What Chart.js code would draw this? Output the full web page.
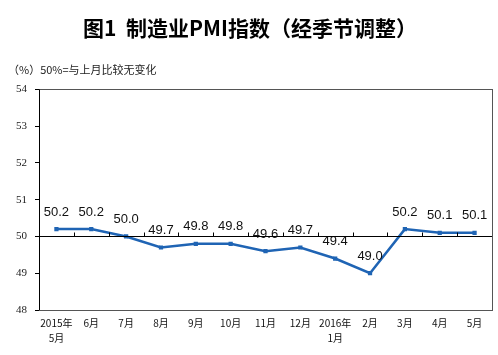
<!DOCTYPE html>
<html><head><meta charset="utf-8">
<script src="https://cdn.jsdelivr.net/npm/chart.js@4"></script>
<style>html,body{margin:0;padding:0;background:#fff}#wrap{width:498px;height:355px}</style>
</head><body><div id="wrap"><canvas id="c" width="498" height="355"></canvas></div>
<script>
const categories = [["2015年","5月"],"6月","7月","8月","9月","10月","11月","12月",["2016年","1月"],"2月","3月","4月","5月"];
const pmiValues = [50.2,50.2,50.0,49.7,49.8,49.8,49.6,49.7,49.4,49.0,50.2,50.1,50.1];
const yTicks = [48,49,50,51,52,53,54];
const titleText = "图1  制造业PMI指数（经季节调整）";
const subtitleText = "（%）50%=与上月比较无变化";

const decor = {
  id:'decor',
  afterDraw(chart){
    const ctx = chart.ctx, a = chart.chartArea, x = chart.scales.x, y = chart.scales.y;
    ctx.save();
    ctx.strokeStyle = '#555'; ctx.lineWidth = 1;
    ctx.strokeRect(Math.round(a.left)+0.5, Math.round(a.top)+0.5, Math.round(a.right-a.left), Math.round(a.bottom-a.top));
    ctx.strokeStyle = '#000';
    ctx.beginPath(); ctx.moveTo(Math.round(a.left)+0.5, a.top); ctx.lineTo(Math.round(a.left)+0.5, a.bottom); ctx.stroke();
    const y50 = Math.round(y.getPixelForValue(50))+0.5;
    ctx.beginPath(); ctx.moveTo(a.left, y50); ctx.lineTo(a.right, y50); ctx.stroke();
    const n = categories.length;
    for(let i=1;i<n;i++){
      const px = Math.round((x.getPixelForValue(i-1)+x.getPixelForValue(i))/2)+0.5;
      ctx.beginPath(); ctx.moveTo(px, y50); ctx.lineTo(px, y50-4); ctx.stroke();
    }
    ctx.restore();
  },
  afterDatasetsDraw(chart){
    const ctx = chart.ctx; const meta = chart.getDatasetMeta(0);
    ctx.save();
    ctx.font = '13px "Liberation Sans", Arial, sans-serif';
    ctx.fillStyle = '#111'; ctx.textAlign = 'center'; ctx.textBaseline = 'middle';
    meta.data.forEach((pt,i)=>{ ctx.fillText(pmiValues[i].toFixed(1), pt.x, pt.y-17); });
    ctx.restore();
  }
};

new Chart(document.getElementById('c'), {
  type:'line',
  data:{ labels:categories, datasets:[{ data:pmiValues, borderColor:'#1f64b4', backgroundColor:'#1f64b4', borderWidth:2.5,
    pointStyle:'rect', pointRadius:3, pointBorderWidth:0, tension:0 }]},
  options:{
    responsive:false, animation:false, devicePixelRatio:1,
    layout:{ padding:{ left:8, right:6, top:0, bottom:9 } },
    plugins:{
      legend:{display:false}, tooltip:{enabled:false},
      title:{ display:true, text:titleText, color:'#000', font:{ family:'"Noto Sans CJK SC"', size:21, weight:'bold' }, padding:{ top:15, bottom:23 } },
      subtitle:{ display:true, text:subtitleText, align:'start', color:'#222', font:{ family:'"Noto Sans CJK SC"', size:11 }, padding:{ top:0, bottom:13 } }
    },
    scales:{
      x:{ offset:true, grid:{ display:false, tickLength:6 }, border:{ display:false },
          ticks:{ color:'#111', font:{ family:'"Noto Sans CJK SC"', size:10, lineHeight:1.5 }, maxRotation:0, autoSkip:false, padding:0 } },
      y:{ min:48, max:54, afterBuildTicks:(s)=>{ s.ticks = yTicks.map(v=>({value:v})); },
          grid:{ drawOnChartArea:false, drawTicks:true, tickLength:4, color:'#000' }, border:{ display:false },
          ticks:{ color:'#222', font:{ family:'"Liberation Serif"', size:11 }, padding:8 } }
    }
  },
  plugins:[decor]
});
</script></body></html>
